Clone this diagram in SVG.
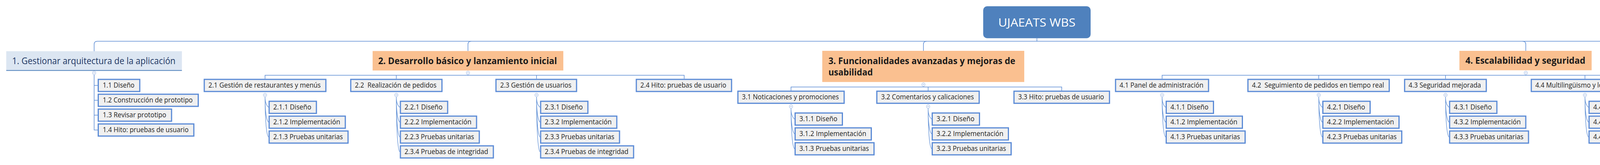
<svg xmlns="http://www.w3.org/2000/svg" width="5309" height="422" viewBox="0 0 5309 422">
<style>
.bg{fill:#ffffff}
.ln{fill:none;stroke:#5B8BD3;stroke-width:1.5}
.cv{fill:none;stroke:#6A97D8;stroke-width:1.4}
.cc{fill:#ffffff;stroke:#A6BEE6;stroke-width:1.2}
.cm{stroke:#8FAADC;stroke-width:1.2}
.c{fill:#F0F0F0;stroke:#5A8AD6;stroke-width:3}
.t{font-family:"Open Sans","DejaVu Sans",sans-serif;font-size:17.5px;fill:#1E1E1E}
.l1{fill:#DCE6F2}
.l1b{stroke:#4F81BD;stroke-width:2}
.l1t{font-family:"Open Sans","DejaVu Sans",sans-serif;font-size:23px;fill:#1F3864}
.or{fill:#FAC090}
.ort{font-family:"Open Sans","DejaVu Sans",sans-serif;font-size:23px;font-weight:700;fill:#1A1A1A}
.root{fill:#4F81BD}
.rt{font-family:"Open Sans","DejaVu Sans",sans-serif;font-size:30px;fill:#ffffff}
</style>
<rect class="bg" x="0" y="0" width="5309" height="422"/>
<g id="connectors">
<path class="ln" d="M241,131V113.5Q241,105.5 249,105.5H5070Q5078,105.5 5078,113.5V131"/>
<path class="ln" d="M1198,130.5V113.5Q1198,105.5 1206,105.5"/>
<path class="ln" d="M2364,130V113.5Q2364,105.5 2372,105.5"/>
<path class="ln" d="M3906,130V113.5Q3906,105.5 3898,105.5"/>
<path class="ln" d="M2654.5,97.7V105.5"/>
<path class="ln" d="M241,190.8V332.5H250M241,218.5H250M241,256.5H250M241,294.5H250"/>
<path class="ln" d="M5078,190.8V256.5H5087M5078,218.5H5087"/>
<path class="ln" d="M1198,190.8V192.5M678.5,201.5V192.5H1751.5V201.5M1014.5,192.5V201.5M1373.5,192.5V201.5"/>
<path class="ln" d="M2364,220.8V222.5M2025,231.7V222.5H2718V231.7M2376,222.5V231.7"/>
<path class="ln" d="M3906,190.8V192.5M2975,201.5V192.5H4835.5V201.5M3376,192.5V201.5M3700.5,192.5V201.5M4057.5,192.5V201.5M4459,192.5V201.5"/>
<path class="cv" d="M678.5,247.5C678.5,261 681.5,269.5 687.5,274.5M678.5,247.5C678.5,280 681.5,307.5 687.5,312.5M678.5,247.5C678.5,299 681.5,345.5 687.5,350.5"/>
<path class="cv" d="M1014.5,247.5C1014.5,261 1017.5,269.5 1023.5,274.5M1014.5,247.5C1014.5,280 1017.5,307.5 1023.5,312.5M1014.5,247.5C1014.5,299 1017.5,345.5 1023.5,350.5M1014.5,247.5C1014.5,318 1017.5,383.5 1023.5,388.5"/>
<path class="cv" d="M1373.5,247.5C1373.5,261 1376.5,269.5 1382.5,274.5M1373.5,247.5C1373.5,280 1376.5,307.5 1382.5,312.5M1373.5,247.5C1373.5,299 1376.5,345.5 1382.5,350.5M1373.5,247.5C1373.5,318 1376.5,383.5 1382.5,388.5"/>
<path class="cv" d="M2025,277C2025,290.75 2028,299.5 2034,304.5M2025,277C2025,309.75 2028,337.5 2034,342.5M2025,277C2025,328.75 2028,375.5 2034,380.5"/>
<path class="cv" d="M2376,277C2376,290.75 2379,299.5 2385,304.5M2376,277C2376,309.75 2379,337.5 2385,342.5M2376,277C2376,328.75 2379,375.5 2385,380.5"/>
<path class="cv" d="M2975,247.5C2975,261 2978,269.5 2984,274.5M2975,247.5C2975,280 2978,307.5 2984,312.5M2975,247.5C2975,299 2978,345.5 2984,350.5"/>
<path class="cv" d="M3376,247.5C3376,261 3379,269.5 3385,274.5M3376,247.5C3376,280 3379,307.5 3385,312.5M3376,247.5C3376,299 3379,345.5 3385,350.5"/>
<path class="cv" d="M3700.5,247.5C3700.5,261 3703.5,269.5 3709.5,274.5M3700.5,247.5C3700.5,280 3703.5,307.5 3709.5,312.5M3700.5,247.5C3700.5,299 3703.5,345.5 3709.5,350.5"/>
<path class="cv" d="M4057.5,247.5C4057.5,261 4060.5,269.5 4066.5,274.5M4057.5,247.5C4057.5,280 4060.5,307.5 4066.5,312.5M4057.5,247.5C4057.5,299 4060.5,345.5 4066.5,350.5"/>
<path class="cv" d="M4459,247.5C4459,261 4462,269.5 4468,274.5M4459,247.5C4459,280 4462,307.5 4468,312.5M4459,247.5C4459,299 4462,345.5 4468,350.5M4459,247.5C4459,318 4462,383.5 4468,388.5"/>
<g id="collapse">
<circle class="cc" cx="241" cy="186.5" r="4.3"/><path class="cm" d="M238.8,186.5H243.2"/>
<circle class="cc" cx="1198" cy="186.5" r="4.3"/><path class="cm" d="M1195.8,186.5H1200.2"/>
<circle class="cc" cx="2364" cy="216.5" r="4.3"/><path class="cm" d="M2361.8,216.5H2366.2"/>
<circle class="cc" cx="3906" cy="186.5" r="4.3"/><path class="cm" d="M3903.8,186.5H3908.2"/>
<circle class="cc" cx="5078" cy="186.5" r="4.3"/><path class="cm" d="M5075.8,186.5H5080.2"/>
<circle class="cc" cx="678.5" cy="243" r="4.3"/><path class="cm" d="M676.3,243H680.7"/>
<circle class="cc" cx="1014.5" cy="243" r="4.3"/><path class="cm" d="M1012.3,243H1016.7"/>
<circle class="cc" cx="1373.5" cy="243" r="4.3"/><path class="cm" d="M1371.3,243H1375.7"/>
<circle class="cc" cx="2025" cy="272.5" r="4.3"/><path class="cm" d="M2022.8,272.5H2027.2"/>
<circle class="cc" cx="2376" cy="272.5" r="4.3"/><path class="cm" d="M2373.8,272.5H2378.2"/>
<circle class="cc" cx="2975" cy="243" r="4.3"/><path class="cm" d="M2972.8,243H2977.2"/>
<circle class="cc" cx="3376" cy="243" r="4.3"/><path class="cm" d="M3373.8,243H3378.2"/>
<circle class="cc" cx="3700.5" cy="243" r="4.3"/><path class="cm" d="M3698.3,243H3702.7"/>
<circle class="cc" cx="4057.5" cy="243" r="4.3"/><path class="cm" d="M4055.3,243H4059.7"/>
<circle class="cc" cx="4459" cy="243" r="4.3"/><path class="cm" d="M4456.8,243H4461.2"/>
</g>
</g>

<g id="root">
<rect class="root" x="2517" y="16" width="275" height="81.7" rx="10"/>
<text class="rt" x="2555.4" y="68.3" textLength="197.8" lengthAdjust="spacingAndGlyphs">UJAEATS WBS</text>
</g>

<g id="n1">
<rect class="l1" x="16" y="131" width="449.7" height="48.5"/>
<path class="l1b" d="M16,180.2H465.7"/>
<text class="l1t" x="31" y="164" textLength="418.3" lengthAdjust="spacingAndGlyphs">1. Gestionar arquitectura de la aplicación</text>
</g>
<g id="n1-1"><rect class="c" x="251.5" y="203" width="106.3" height="31"/><text class="t" x="263" y="224" textLength="81.3" lengthAdjust="spacingAndGlyphs">1.1 Diseño</text></g>
<g id="n1-2"><rect class="c" x="251.5" y="241" width="256" height="31"/><text class="t" x="263" y="262" textLength="230.3" lengthAdjust="spacingAndGlyphs">1.2 Construcción de prototipo</text></g>
<g id="n1-3"><rect class="c" x="251.5" y="279" width="187.7" height="31"/><text class="t" x="263" y="300" textLength="162.7" lengthAdjust="spacingAndGlyphs">1.3 Revisar prototipo</text></g>
<g id="n1-4"><rect class="c" x="251.5" y="317" width="244.7" height="31"/><text class="t" x="263" y="338" textLength="219.7" lengthAdjust="spacingAndGlyphs">1.4 Hito: pruebas de usuario</text></g>

<g id="n2">
<rect class="or" x="953.9" y="130.5" width="488.2" height="49.8"/>
<text class="ort" x="968.2" y="163.5" textLength="457.8" lengthAdjust="spacingAndGlyphs">2. Desarrollo básico y lanzamiento inicial</text>
</g>
<g id="n2-1"><rect class="c" x="522.9" y="203" width="311.3" height="31"/><text class="t" x="533.6" y="224" textLength="287.5" lengthAdjust="spacingAndGlyphs">2.1 Gestión de restaurantes y menús</text></g>
<g id="n2-2"><rect class="c" x="897.9" y="203" width="233.5" height="31"/><text class="t" x="908.6" y="224" textLength="208.9" lengthAdjust="spacingAndGlyphs">2.2&#160; Realización de pedidos</text></g>
<g id="n2-3"><rect class="c" x="1269.7" y="203" width="206.3" height="31"/><text class="t" x="1280.4" y="224" textLength="182.5" lengthAdjust="spacingAndGlyphs">2.3 Gestión de usuarios</text></g>
<g id="n2-4"><rect class="c" x="1629" y="203" width="243.8" height="31"/><text class="t" x="1639.3" y="224" textLength="220" lengthAdjust="spacingAndGlyphs">2.4 Hito: pruebas de usuario</text></g>

<g id="n2-1-1"><rect class="c" x="689" y="259" width="121" height="31"/><text class="t" x="699.5" y="280" textLength="97.5" lengthAdjust="spacingAndGlyphs">2.1.1 Diseño</text></g>
<g id="n2-1-2"><rect class="c" x="689" y="297" width="195" height="31"/><text class="t" x="699.5" y="318" textLength="171.4" lengthAdjust="spacingAndGlyphs">2.1.2 Implementación</text></g>
<g id="n2-1-3"><rect class="c" x="689" y="335" width="202" height="31"/><text class="t" x="699.5" y="356" textLength="178.2" lengthAdjust="spacingAndGlyphs">2.1.3 Pruebas unitarias</text></g>

<g id="n2-2-1"><rect class="c" x="1025" y="259" width="121" height="31"/><text class="t" x="1035.5" y="280" textLength="97.5" lengthAdjust="spacingAndGlyphs">2.2.1 Diseño</text></g>
<g id="n2-2-2"><rect class="c" x="1025" y="297" width="195" height="31"/><text class="t" x="1035.5" y="318" textLength="171.4" lengthAdjust="spacingAndGlyphs">2.2.2 Implementación</text></g>
<g id="n2-2-3"><rect class="c" x="1025" y="335" width="202" height="31"/><text class="t" x="1035.5" y="356" textLength="178.2" lengthAdjust="spacingAndGlyphs">2.2.3 Pruebas unitarias</text></g>
<g id="n2-2-4"><rect class="c" x="1025" y="373" width="238" height="31"/><text class="t" x="1035.5" y="394" textLength="214.3" lengthAdjust="spacingAndGlyphs">2.3.4 Pruebas de integridad</text></g>

<g id="n2-3-1"><rect class="c" x="1384" y="259" width="121" height="31"/><text class="t" x="1394.5" y="280" textLength="97.5" lengthAdjust="spacingAndGlyphs">2.3.1 Diseño</text></g>
<g id="n2-3-2"><rect class="c" x="1384" y="297" width="195" height="31"/><text class="t" x="1394.5" y="318" textLength="171.4" lengthAdjust="spacingAndGlyphs">2.3.2 Implementación</text></g>
<g id="n2-3-3"><rect class="c" x="1384" y="335" width="202" height="31"/><text class="t" x="1394.5" y="356" textLength="178.2" lengthAdjust="spacingAndGlyphs">2.3.3 Pruebas unitarias</text></g>
<g id="n2-3-4"><rect class="c" x="1384" y="373" width="238" height="31"/><text class="t" x="1394.5" y="394" textLength="214.3" lengthAdjust="spacingAndGlyphs">2.3.4 Pruebas de integridad</text></g>

<g id="n3">
<rect class="or" x="2105" y="130" width="517.1" height="79.7"/>
<text class="ort" x="2120.7" y="164" textLength="478.6" lengthAdjust="spacingAndGlyphs">3. Funcionalidades avanzadas y mejoras de</text>
<text class="ort" x="2120.7" y="193.3" textLength="113.6" lengthAdjust="spacingAndGlyphs">usabilidad</text>
</g>
<g id="n3-1"><rect class="c" x="1889" y="233.2" width="272" height="31"/><text class="t" x="1899.3" y="254.2" textLength="248.2" lengthAdjust="spacingAndGlyphs">3.1 Noticaciones y promociones</text></g>
<g id="n3-2"><rect class="c" x="2244.7" y="233.2" width="262" height="31"/><text class="t" x="2255.4" y="254.2" textLength="237.8" lengthAdjust="spacingAndGlyphs">3.2 Comentarios y calicaciones</text></g>
<g id="n3-3"><rect class="c" x="2595.8" y="233.2" width="244.5" height="31"/><text class="t" x="2606.4" y="254.2" textLength="220" lengthAdjust="spacingAndGlyphs">3.3 Hito: pruebas de usuario</text></g>

<g id="n3-1-1"><rect class="c" x="2035.5" y="289" width="121" height="31"/><text class="t" x="2046.2" y="310" textLength="97.5" lengthAdjust="spacingAndGlyphs">3.1.1 Diseño</text></g>
<g id="n3-1-2"><rect class="c" x="2035.5" y="327" width="195" height="31"/><text class="t" x="2046.2" y="348" textLength="171.4" lengthAdjust="spacingAndGlyphs">3.1.2 Implementación</text></g>
<g id="n3-1-3"><rect class="c" x="2035.5" y="365" width="202" height="31"/><text class="t" x="2046.2" y="386" textLength="178.2" lengthAdjust="spacingAndGlyphs">3.1.3 Pruebas unitarias</text></g>

<g id="n3-2-1"><rect class="c" x="2386.5" y="289" width="121" height="31"/><text class="t" x="2397.2" y="310" textLength="97.5" lengthAdjust="spacingAndGlyphs">3.2.1 Diseño</text></g>
<g id="n3-2-2"><rect class="c" x="2386.5" y="327" width="195" height="31"/><text class="t" x="2397.2" y="348" textLength="171.4" lengthAdjust="spacingAndGlyphs">3.2.2 Implementación</text></g>
<g id="n3-2-3"><rect class="c" x="2386.5" y="365" width="202" height="31"/><text class="t" x="2397.2" y="386" textLength="178.2" lengthAdjust="spacingAndGlyphs">3.2.3 Pruebas unitarias</text></g>

<g id="n4">
<rect class="or" x="3736.1" y="130" width="338.5" height="49.7"/>
<text class="ort" x="3751.4" y="163.3" textLength="307.2" lengthAdjust="spacingAndGlyphs">4. Escalabilidad y seguridad</text>
</g>
<g id="n4-1"><rect class="c" x="2855.8" y="203" width="238.1" height="31"/><text class="t" x="2866.1" y="224" textLength="214.6" lengthAdjust="spacingAndGlyphs">4.1 Panel de administración</text></g>
<g id="n4-2"><rect class="c" x="3194.7" y="203" width="361.7" height="31"/><text class="t" x="3205" y="224" textLength="338.2" lengthAdjust="spacingAndGlyphs">4.2&#160; Seguimiento de pedidos en tiempo real</text></g>
<g id="n4-3"><rect class="c" x="3595.8" y="203" width="209.1" height="31"/><text class="t" x="3606.1" y="224" textLength="185.3" lengthAdjust="spacingAndGlyphs">4.3 Seguridad mejorada</text></g>
<g id="n4-4"><rect class="c" x="3920.1" y="203" width="274.8" height="31"/><text class="t" x="3930.4" y="224" textLength="247.5" lengthAdjust="spacingAndGlyphs">4.4 Multilingüismo y localización</text></g>
<g id="n4-5"><rect class="c" x="4277.2" y="203" width="363.4" height="31"/><text class="t" x="4287.5" y="224" textLength="340" lengthAdjust="spacingAndGlyphs">4.5 Cumplimiento normativo y regulaciones</text></g>
<g id="n4-6"><rect class="c" x="4715.1" y="203" width="240.7" height="31"/><text class="t" x="4725" y="224" textLength="218" lengthAdjust="spacingAndGlyphs">4.6 hito: pruebas de usuario</text></g>

<g id="n4-1-1"><rect class="c" x="2985.5" y="259" width="121" height="31"/><text class="t" x="2996.2" y="280" textLength="97.5" lengthAdjust="spacingAndGlyphs">4.1.1 Diseño</text></g>
<g id="n4-1-2"><rect class="c" x="2985.5" y="297" width="195" height="31"/><text class="t" x="2996.2" y="318" textLength="171.4" lengthAdjust="spacingAndGlyphs">4.1.2 Implementación</text></g>
<g id="n4-1-3"><rect class="c" x="2985.5" y="335" width="202" height="31"/><text class="t" x="2996.2" y="356" textLength="178.2" lengthAdjust="spacingAndGlyphs">4.1.3 Pruebas unitarias</text></g>

<g id="n4-2-1"><rect class="c" x="3386.5" y="259" width="121" height="31"/><text class="t" x="3397.2" y="280" textLength="97.5" lengthAdjust="spacingAndGlyphs">4.2.1 Diseño</text></g>
<g id="n4-2-2"><rect class="c" x="3386.5" y="297" width="195" height="31"/><text class="t" x="3397.2" y="318" textLength="171.4" lengthAdjust="spacingAndGlyphs">4.2.2 Implementación</text></g>
<g id="n4-2-3"><rect class="c" x="3386.5" y="335" width="202" height="31"/><text class="t" x="3397.2" y="356" textLength="178.2" lengthAdjust="spacingAndGlyphs">4.2.3 Pruebas unitarias</text></g>

<g id="n4-3-1"><rect class="c" x="3711" y="259" width="121" height="31"/><text class="t" x="3721.7" y="280" textLength="97.5" lengthAdjust="spacingAndGlyphs">4.3.1 Diseño</text></g>
<g id="n4-3-2"><rect class="c" x="3711" y="297" width="195" height="31"/><text class="t" x="3721.7" y="318" textLength="171.4" lengthAdjust="spacingAndGlyphs">4.3.2 Implementación</text></g>
<g id="n4-3-3"><rect class="c" x="3711" y="335" width="202" height="31"/><text class="t" x="3721.7" y="356" textLength="178.2" lengthAdjust="spacingAndGlyphs">4.3.3 Pruebas unitarias</text></g>

<g id="n4-4-1"><rect class="c" x="4068" y="259" width="121" height="31"/><text class="t" x="4078.7" y="280" textLength="97.5" lengthAdjust="spacingAndGlyphs">4.4.1 Diseño</text></g>
<g id="n4-4-2"><rect class="c" x="4068" y="297" width="195" height="31"/><text class="t" x="4078.7" y="318" textLength="171.4" lengthAdjust="spacingAndGlyphs">4.4.2 Implementación</text></g>
<g id="n4-4-3"><rect class="c" x="4068" y="335" width="202" height="31"/><text class="t" x="4078.7" y="356" textLength="178.2" lengthAdjust="spacingAndGlyphs">4.4.3 Pruebas unitarias</text></g>

<g id="n4-5-1"><rect class="c" x="4469.5" y="259" width="121" height="31"/><text class="t" x="4480.2" y="280" textLength="97.5" lengthAdjust="spacingAndGlyphs">4.5.1 Diseño</text></g>
<g id="n4-5-2"><rect class="c" x="4469.5" y="297" width="195" height="31"/><text class="t" x="4480.2" y="318" textLength="171.4" lengthAdjust="spacingAndGlyphs">4.5.2 Implementación</text></g>
<g id="n4-5-3"><rect class="c" x="4469.5" y="335" width="202" height="31"/><text class="t" x="4480.2" y="356" textLength="178.2" lengthAdjust="spacingAndGlyphs">4.5.3 Pruebas unitarias</text></g>
<g id="n4-5-4"><rect class="c" x="4469.5" y="373" width="238" height="31"/><text class="t" x="4480.2" y="394" textLength="214.3" lengthAdjust="spacingAndGlyphs">4.5.4 Pruebas de integridad</text></g>

<g id="n5">
<rect class="l1" x="4970" y="131" width="215" height="48.5"/>
<path class="l1b" d="M4970,180.2H5185"/>
<text class="l1t" x="4985" y="164" textLength="183.3" lengthAdjust="spacingAndGlyphs">5. Cerrar proyecto</text>
</g>
<g id="n5-1"><rect class="c" x="5088.5" y="203" width="190.3" height="31"/><text class="t" x="5099" y="224" textLength="166.7" lengthAdjust="spacingAndGlyphs">5.1 Instalar aplicación</text></g>
<g id="n5-2"><rect class="c" x="5088.5" y="241" width="202.7" height="31"/><text class="t" x="5099" y="262" textLength="178.7" lengthAdjust="spacingAndGlyphs">5.2 Pruebas de usuario</text></g>
</svg>
